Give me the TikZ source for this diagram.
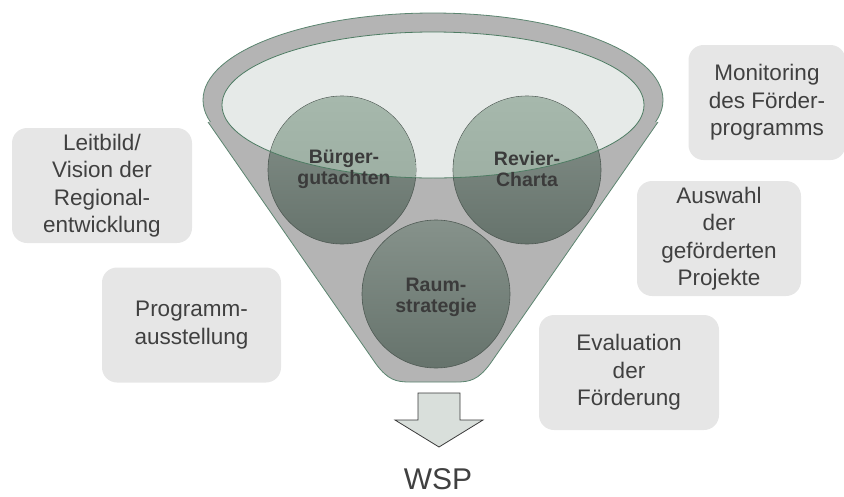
\documentclass[tikz,border=0pt]{standalone}
\usepackage{fontspec}
\setmainfont{Liberation Sans}
\usepackage{tikz}
\usetikzlibrary{shapes}

\definecolor{textgray}{HTML}{404040}
\definecolor{boxgray}{HTML}{E6E6E6}
\definecolor{funnelgray}{HTML}{B4B4B4}
\definecolor{funnelline}{HTML}{5C8570}
\definecolor{innerfill}{HTML}{E6EAE8}
\definecolor{innerline}{HTML}{4E7C63}
\definecolor{ballline}{HTML}{4F5A54}
\definecolor{balltop}{HTML}{86928B}
\definecolor{ballbot}{HTML}{66736C}
\definecolor{ballhitop}{HTML}{A6B8AC}
\definecolor{ballhibot}{HTML}{97A99D}
\definecolor{balltextc}{HTML}{3B3B3B}
\definecolor{arrowfill}{HTML}{D9DFDB}
\definecolor{arrowline}{HTML}{3A3A3A}

\begin{document}
\begin{tikzpicture}[x=1pt,y=-1pt,
                every node/.style={align=center,text=textgray,inner sep=0pt},
                textbox/.style={fill=boxgray,rounded corners=15pt,minimum height=115pt,
                                font=\fontsize{22.5}{27.5}\selectfont},
                ball/.style={circle,draw=ballline,line width=0.6pt,top color=balltop,
                             bottom color=ballbot,minimum size=148pt},
                balltext/.style={font=\bfseries\fontsize{19.5}{21}\selectfont,text=balltextc}]
  \useasboundingbox (0,0) rectangle (844,496);

  % funnel
  \filldraw[fill=funnelgray,draw=funnelline,line width=0.8pt] (433,100) ellipse [x radius=230,y radius=87];
  \fill[funnelgray] (208,122) -- (376,364) .. controls (388,380) and (396,382) .. (410,382)
        -- (456,382) .. controls (470,382) and (478,380) .. (490,364) -- (658,122) -- cycle;
  \draw[funnelline,line width=0.8pt] (208,122) -- (376,364) .. controls (388,380) and (396,382) .. (410,382)
        -- (456,382) .. controls (470,382) and (478,380) .. (490,364) -- (658,122);
  \fill[innerfill] (433,105) ellipse [x radius=211,y radius=73];

  \node[ball] (buerger) at (342,170) {};
  \node[ball] (revier)  at (527,170) {};
  \node[ball] (raum)    at (436,294) {};

  \begin{scope}
    \clip (433,105) ellipse [x radius=211,y radius=73];
    \shade[top color=ballhitop,bottom color=ballhibot] (buerger) circle (73.7);
    \shade[top color=ballhitop,bottom color=ballhibot] (revier) circle (73.7);
  \end{scope}
  \draw[innerline,line width=0.8pt] (433,105) ellipse [x radius=211,y radius=73];

  \node[balltext] (buergertxt) at (344,169) {Bürger-\\gutachten};
  \node[balltext] (reviertxt)  at (527,169) {Revier-\\Charta};
  \node[balltext] (raumtxt)    at (436,297) {Raum-\\strategie};

  % boxes
  \node[textbox,minimum width=180pt] (leitbild)   at (102,185.5) {Leitbild/\\Vision der\\Regional-\\entwicklung};
  \node[textbox,minimum width=179pt] (programm)   at (191.5,325) {Programm-\\ausstellung};
  \node[textbox,minimum width=157pt] (monitoring) at (767,102.5) {Monitoring\\des Förder-\\programms};
  \node[textbox,minimum width=164pt] (auswahl)    at (719,238.5) {Auswahl\\der\\geförderten\\Projekte};
  \node[textbox,minimum width=180pt] (evaluation) at (629,372.5) {Evaluation\\der\\Förderung};

  % output
  \filldraw[fill=arrowfill,draw=arrowline,line width=0.8pt] (418,393) -- (460,393) -- (460,420)
        -- (483,420) -- (439,447) -- (395,420) -- (418,420) -- cycle;
  \node[font=\fontsize{30}{34}\selectfont] (wsp) at (438,479) {WSP};
\end{tikzpicture}
\end{document}
